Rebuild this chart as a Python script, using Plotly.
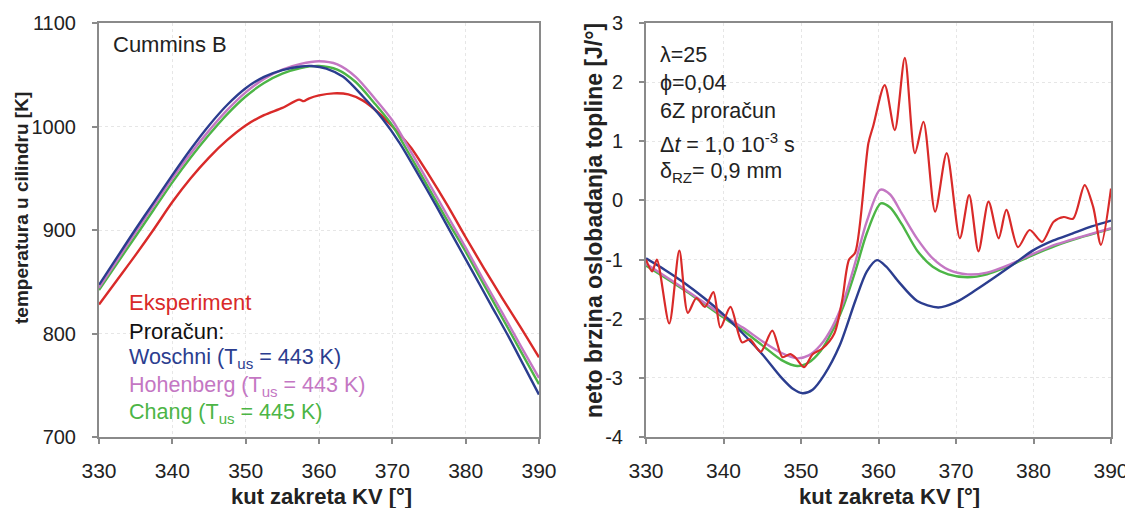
import plotly.graph_objects as go

# ---------------- Left panel: cylinder temperature [K] ----------------
L_red_x = [330, 332.5, 335, 337.5, 340, 342.5, 345, 347.5, 350, 352.5, 355, 357.3, 357.9, 358.6, 360, 362, 364, 366, 368, 370, 372.5, 375, 377.5, 380, 382.5, 385, 387.5, 390]
L_red_y = [828, 852, 876, 901, 927, 950, 970, 987, 1001, 1011, 1018, 1026, 1024.5, 1027, 1030, 1032, 1031, 1025, 1014, 1000, 980, 953, 924, 893, 863, 834, 806, 777]

L_blue_x = [330, 332.5, 335, 337.5, 340, 342.5, 345, 347.5, 350, 352.5, 355, 357.5, 359, 361, 363.3, 366, 368.7, 371, 373.5, 376, 378.5, 381, 383.5, 386, 388, 390]
L_blue_y = [847, 874, 901, 927, 953, 978, 1001, 1021, 1037, 1048, 1054.5, 1058, 1058.5, 1056, 1048, 1029, 1007, 984, 954, 923, 891, 859, 827, 795, 768, 741]

L_mag_x = [330, 332.5, 335, 337.5, 340, 342.5, 345, 347.5, 350, 352.5, 355, 357.5, 360, 362.5, 365, 367.5, 370, 372.5, 375, 377.5, 380, 382.5, 385, 387.5, 390]
L_mag_y = [844, 871, 898, 924, 950, 974, 996, 1016, 1033, 1046, 1055, 1060.5, 1063, 1060, 1048, 1028, 1006, 976, 945, 914, 883, 851, 820, 788, 757]

L_grn_x = [330, 332.5, 335, 337.5, 340, 342.5, 345, 347.5, 350, 352.5, 355, 357.5, 360, 362.5, 365, 367.5, 370, 372.5, 375, 377.5, 380, 382.5, 385, 387.5, 390]
L_grn_y = [842, 868, 894, 920, 946, 970, 992, 1012, 1029, 1042, 1051, 1056.5, 1058.5, 1055, 1043, 1023, 1001, 971, 940, 909, 879, 847, 815, 783, 751]

# ---------------- Right panel: net heat release rate [J/deg] ----------------
R_red_x = [330.0, 330.8, 331.4, 333.0, 334.3, 335.4, 336.5, 337.6, 338.7, 339.6, 340.9, 342.4, 343.4, 344.8, 346.3, 347.6, 348.6, 349.3, 350.4, 351.5, 352.8, 354.3, 355.3, 356.2, 357.0, 358.7, 359.3, 360.8, 362.1, 363.4, 364.7, 365.8, 367.3, 368.8, 370.5, 371.7, 372.9, 374.2, 375.5, 376.5, 378.0, 379.5, 381.1, 382.6, 383.9, 385.1, 386.6, 387.7, 388.7, 390.0]
R_red_y = [-1.00, -1.20, -1.00, -2.08, -0.85, -1.90, -1.65, -1.80, -1.55, -2.15, -1.80, -2.40, -2.35, -2.56, -2.20, -2.65, -2.60, -2.66, -2.82, -2.60, -2.50, -2.25, -1.70, -1.00, -0.88, 0.97, 1.25, 1.95, 1.19, 2.41, 0.80, 1.33, -0.19, 0.80, -0.64, 0.09, -0.86, -0.02, -0.64, -0.16, -0.79, -0.50, -0.70, -0.36, -0.28, -0.31, 0.26, -0.11, -0.75, 0.20]

R_blue_x = [330, 332.5, 335, 337.5, 340, 342.5, 345, 347.5, 349, 350.2, 351.5, 353, 355, 357, 358.5, 359.8, 361, 362.5, 365, 367.7, 370, 372.5, 375, 377.5, 380, 382.5, 385, 387.5, 390]
R_blue_y = [-0.98, -1.18, -1.40, -1.65, -1.93, -2.25, -2.60, -3.00, -3.19, -3.26, -3.20, -2.95, -2.45, -1.70, -1.20, -1.01, -1.12, -1.36, -1.70, -1.81, -1.72, -1.52, -1.30, -1.07, -0.84, -0.68, -0.56, -0.44, -0.34]

R_mag_x = [330, 335, 340, 342.5, 345, 347.5, 349.5, 351, 352.5, 354, 355.5, 357, 358.5, 360.2, 361.5, 363, 365, 367, 369, 371.5, 374, 377, 380, 383, 386, 390]
R_mag_y = [-1.07, -1.50, -1.95, -2.15, -2.38, -2.58, -2.67, -2.62, -2.45, -2.15, -1.70, -1.05, -0.35, 0.18, 0.10, -0.22, -0.65, -0.98, -1.17, -1.25, -1.22, -1.08, -0.90, -0.74, -0.62, -0.47]

R_grn_x = [330, 335, 340, 342.5, 345, 347.5, 349.5, 351, 352.5, 354, 355.5, 357, 358.5, 360.3, 361.5, 363, 365, 367, 369, 371.5, 374, 377, 380, 383, 386, 390]
R_grn_y = [-1.10, -1.52, -1.98, -2.20, -2.45, -2.70, -2.80, -2.74, -2.55, -2.22, -1.78, -1.20, -0.55, -0.05, -0.12, -0.40, -0.85, -1.12, -1.25, -1.30, -1.25, -1.10, -0.92, -0.76, -0.63, -0.48]

x_ticks = [330, 340, 350, 360, 370, 380, 390]
L_y_ticks = [700, 800, 900, 1000, 1100]
R_y_ticks = [-4, -3, -2, -1, 0, 1, 2, 3]
R_y_ticktext = ["-4", "-3", "-2", "-1", "0", "1", "2", "3"]

C_RED = "#d92a29"
C_BLUE = "#2b3d8f"
C_MAG = "#c477c3"
C_GRN = "#4cb546"

FONT = "Liberation Sans, Arial, sans-serif"
OFF = 8                      # page body margin around the figure
W, H = 1133 - OFF, 508 - OFF

fig = go.Figure()

def add(x, y, color, xa, ya, w=2.4):
    fig.add_trace(go.Scatter(x=x, y=y, mode="lines", xaxis=xa, yaxis=ya,
                             line=dict(color=color, width=w, shape="spline", smoothing=0.8),
                             showlegend=False, hoverinfo="skip"))

add(L_red_x, L_red_y, C_RED, "x", "y")
add(L_grn_x, L_grn_y, C_GRN, "x", "y")
add(L_mag_x, L_mag_y, C_MAG, "x", "y")
add(L_blue_x, L_blue_y, C_BLUE, "x", "y")

add(R_grn_x, R_grn_y, C_GRN, "x2", "y2")
add(R_mag_x, R_mag_y, C_MAG, "x2", "y2")
add(R_blue_x, R_blue_y, C_BLUE, "x2", "y2")
add(R_red_x, R_red_y, C_RED, "x2", "y2", 2.2)

def px(xp):
    return (xp - OFF) / W

def py(yp):
    return 1 - (yp - OFF) / H

axis_common = dict(showline=True, linecolor="#8a8a8a", linewidth=2, mirror=True,
                   ticks="outside", ticklen=5, tickcolor="#8a8a8a", tickwidth=1.5,
                   showgrid=True, gridcolor="#e6e6e6", griddash="dot", gridwidth=1,
                   zeroline=False, automargin=False)

def tf(size):
    return dict(family=FONT, size=size, color="#222222")

fig.update_layout(
    width=W, height=H, margin=dict(l=0, r=0, t=0, b=0),
    paper_bgcolor="white", plot_bgcolor="white",
    xaxis=dict(domain=[px(99), px(539)], range=[330, 390], tickvals=x_ticks, anchor="y",
               ticklabelstandoff=9, tickfont=tf(21), **axis_common),
    yaxis=dict(domain=[py(437), py(23)], range=[700, 1100], tickvals=L_y_ticks, anchor="x",
               ticklabelstandoff=12, tickfont=tf(20), **axis_common),
    xaxis2=dict(domain=[px(646), px(1111)], range=[330, 390], tickvals=x_ticks, anchor="y2",
                ticklabelstandoff=9, tickfont=tf(21), **axis_common),
    yaxis2=dict(domain=[py(437), py(23)], range=[-4, 3], tickvals=R_y_ticks, ticktext=R_y_ticktext,
                anchor="x2", ticklabelstandoff=12, tickfont=tf(20), **axis_common),
)

ann = []
def text(x, y, s, color="#222222", size=22, bold=False, angle=0, xanchor="left"):
    ann.append(dict(x=px(x), y=py(y), xref="paper", yref="paper", text=("<b>%s</b>" % s) if bold else s,
                    showarrow=False, xanchor=xanchor, yanchor="middle", textangle=angle,
                    font=dict(family=FONT, size=size, color=color)))

# axis titles
text(321, 496, "kut zakreta KV [°]", bold=True, size=22, xanchor="center")
text(889, 496, "kut zakreta KV [°]", bold=True, size=22, xanchor="center")
text(21, 208, "temperatura u cilindru [K]", bold=True, size=19, angle=-90, xanchor="center")
text(594, 221, "neto brzina oslobadanja topline [J/°]", bold=True, size=23, angle=-90, xanchor="center")

# left panel labels
text(111, 45, "Cummins B", size=22)
text(127, 302, "Eksperiment", color=C_RED, size=22)
text(127, 331, "Proračun:", color="#111111", size=22)
text(127, 358, "Woschni (T<sub>us</sub> = 443 K)", color=C_BLUE, size=21.5)
text(127, 386, "Hohenberg (T<sub>us</sub> = 443 K)", color=C_MAG, size=21.5)
text(127, 413, "Chang (T<sub>us</sub> = 445 K)", color=C_GRN, size=21.5)

# right panel labels
text(658, 55, "λ=25", size=21.5)
text(658, 83, "ϕ=0,04", size=21.5)
text(658, 111, "6Z proračun", size=21.5)
text(658, 143, "Δ<i>t</i> = 1,0 10<sup>-3</sup> s", size=21.5)
text(658, 172, "δ<sub>RZ</sub>= 0,9 mm", size=21.5)

fig.update_layout(annotations=ann)
fig.write_html("out.html")
